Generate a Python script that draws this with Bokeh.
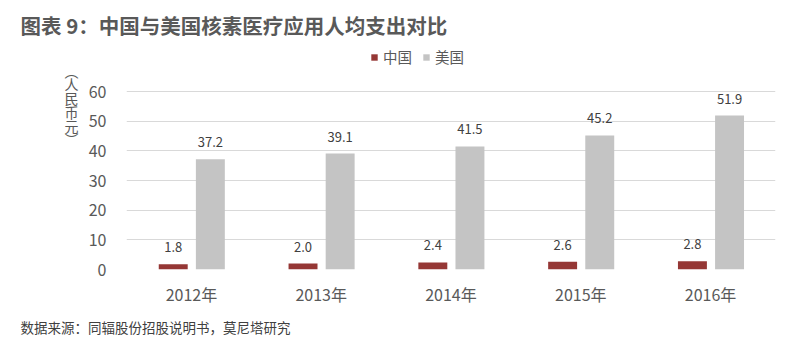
from bokeh.plotting import figure
from bokeh.layouts import column, row
from bokeh.models import (ColumnDataSource, FactorRange, Range1d, FixedTicker, Label,
                          Legend, LegendItem)
from bokeh.transform import dodge
from bokeh.core.properties import value
from bokeh.embed import file_html
from bokeh.resources import INLINE

years = ["2012年", "2013年", "2014年", "2015年", "2016年"]
china = [1.8, 2.0, 2.4, 2.6, 2.8]
usa = [37.2, 39.1, 41.5, 45.2, 51.9]
y_ticks = [0, 10, 20, 30, 40, 50, 60]
series_names = ["中国", "美国"]
title_text = "图表 9：中国与美国核素医疗应用人均支出对比"
source_text = "数据来源：同辐股份招股说明书，莫尼塔研究"
unit_chars = ["︵", "人", "民", "币", "元", "︶"]

FONT = "Noto Sans CJK SC"
C_CN = "#953735"
C_US = "#c4c4c4"
W = 783

# page-pixel layout
TOP_H = 44          # title strip
FRAME_L, FRAME_R = 125, 775
Y0_PX, Y60_PX = 269, 91
MID_BOTTOM = 310
LEFT_W = 85

src = ColumnDataSource(dict(
    x=years, cn=china, us=usa,
    cn_lab=[f"{v:.1f}" for v in china],
    us_lab=[f"{v:.1f}" for v in usa],
))


def blank(w, h):
    f = figure(width=w, height=h, output_backend="svg", toolbar_location=None,
               x_range=Range1d(0, w), y_range=Range1d(0, h),
               x_axis_location=None, y_axis_location=None, min_border=0)
    f.outline_line_color = None
    f.grid.visible = False
    return f


def slabel(f, text, x, y, size, bold=False, color="#595959", align="left"):
    f.add_layout(Label(x=x, y=y, x_units="screen", y_units="screen", text=text,
                       text_font=FONT, text_font_size=size,
                       text_font_style="bold" if bold else "normal",
                       text_color=color, text_baseline="middle", text_align=align))


# ---- top strip: title ----
p_top = blank(W, TOP_H)
slabel(p_top, title_text, 20, TOP_H - 24, "20.5px", bold=True)

# ---- middle: unit label + chart ----
MID_H = MID_BOTTOM - TOP_H
y_max = 60 * (Y0_PX - TOP_H) / (Y0_PX - Y60_PX)

p = figure(width=W - LEFT_W, height=MID_H, output_backend="svg", toolbar_location=None,
           x_range=FactorRange(*years, range_padding=0), y_range=Range1d(0, y_max),
           min_border_left=FRAME_L - LEFT_W, min_border_right=W - FRAME_R,
           min_border_top=0, min_border_bottom=MID_BOTTOM - Y0_PX)
p.outline_line_color = None

r_cn = p.vbar(x=dodge("x", -0.14, range=p.x_range), top="cn", width=0.223, source=src,
              fill_color=C_CN, line_color=None)
r_us = p.vbar(x=dodge("x", 0.146, range=p.x_range), top="us", width=0.223, source=src,
              fill_color=C_US, line_color=None)

for col, lab, off in (("cn", "cn_lab", -0.14), ("us", "us_lab", 0.146)):
    p.text(x=dodge("x", off, range=p.x_range), y=col, text=lab, source=src,
           text_align="center", text_baseline="bottom", y_offset=-12,
           text_font=value(FONT), text_font_size="13px", text_color="#404040")

p.yaxis.ticker = FixedTicker(ticks=y_ticks)
p.ygrid.ticker = FixedTicker(ticks=y_ticks)
p.ygrid.grid_line_color = "#d9d9d9"
p.xgrid.grid_line_color = None
for ax in (p.xaxis, p.yaxis):
    ax.axis_line_color = None
    ax.major_tick_line_color = None
    ax.minor_tick_line_color = None
    ax.major_tick_out = 0
    ax.major_tick_in = 0
    ax.minor_tick_out = 0
    ax.minor_tick_in = 0
    ax.major_label_text_font = FONT
    ax.major_label_text_font_size = "16px"
    ax.major_label_text_color = "#595959"
p.yaxis.major_label_standoff = 20
p.xaxis.major_label_standoff = 12

legend = Legend(items=[LegendItem(label=series_names[0], renderers=[r_cn]),
                       LegendItem(label=series_names[1], renderers=[r_us])],
                orientation="horizontal", location=(369 - FRAME_L, Y0_PX - 67),
                label_text_font=FONT, label_text_font_size="14.5px", label_text_color="#595959",
                glyph_width=8, glyph_height=8, spacing=10, padding=0, margin=0,
                border_line_color=None, background_fill_alpha=0, label_standoff=5)
p.add_layout(legend, "center")

# left strip with the vertical unit label (its frame aligns with the chart's frame)
p_left = blank(LEFT_W, MID_H)
for ch, yy in zip(unit_chars, [70, 83, 97, 111, 125, 138]):
    slabel(p_left, ch, 71, Y0_PX - yy, "14px", align="center")

# ---- bottom strip: source ----
BOT_H = 340 - MID_BOTTOM
p_bot = blank(W, BOT_H)
slabel(p_bot, source_text, 20, 340 - 326, "13.5px", color="#404040")

layout = column(p_top, row(p_left, p, spacing=0), p_bot, spacing=0)
open("out.html", "w").write(file_html(layout, INLINE))
